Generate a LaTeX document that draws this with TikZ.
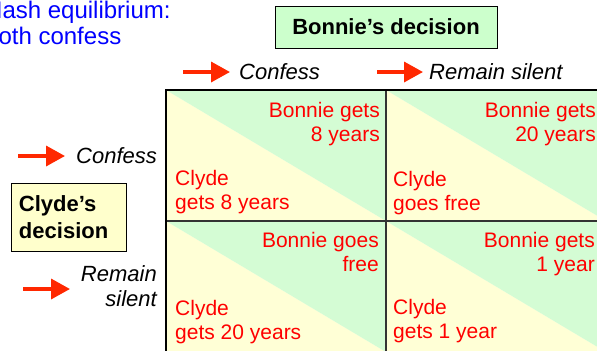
\documentclass[tikz,border=0pt]{standalone}
\usepackage{fontspec}
\setmainfont{Liberation Sans}
\usetikzlibrary{arrows.meta}
\definecolor{cellgreen}{RGB}{212,252,212}
\definecolor{cellyellow}{RGB}{255,255,214}
\definecolor{boxgreen}{RGB}{204,255,204}
\definecolor{boxyellow}{RGB}{255,255,204}
\definecolor{arrowred}{RGB}{255,40,0}
\definecolor{textred}{RGB}{255,0,0}
\definecolor{textblue}{RGB}{0,0,255}
\definecolor{gridgray}{RGB}{51,51,51}
\begin{document}
\begin{tikzpicture}[x=1bp,y=-1bp,
  redarrow/.style={draw=arrowred, line width=3.5bp, -{Triangle[length=19bp,width=20bp]}},
  cellnote/.style={text=textred, inner sep=0pt, font=\fontsize{21bp}{24.5bp}\selectfont},
  choice/.style={inner sep=0pt, font=\fontsize{22bp}{25bp}\selectfont\itshape},
  decision/.style={draw=black, line width=1bp, font=\fontsize{22bp}{27bp}\selectfont\bfseries}]
\useasboundingbox (0,0) rectangle (597,350);
\clip (0,0) rectangle (597,350);

% cells with diagonal split
\foreach \cx/\cy in {166/90, 386/90, 166/221, 386/221}{
  \fill[cellyellow] (\cx,\cy) -- (\cx,\cy+131) -- (\cx+220,\cy+131) -- cycle;
  \fill[cellgreen] (\cx,\cy) -- (\cx+220,\cy) -- (\cx+220,\cy+131) -- cycle;
}
% grid
\draw[gridgray, line width=2bp] (386,90) -- (386,352);
\draw[gridgray, line width=2bp] (166,221) -- (606,221);
\draw[black, line width=1.5bp] (166,352) -- (166,90) -- (606,90);

% title
\node[text=textblue, inner sep=0pt, anchor=north west, align=left,
      font=\fontsize{24bp}{26bp}\selectfont] (nash) at (-15,1) {Nash equilibrium:\\both confess};

% decision boxes
\node[decision, fill=boxgreen, minimum width=222bp, minimum height=42bp] (bonnie) at (386,27) {Bonnie’s decision};
\node[decision, fill=boxyellow, text width=100bp, inner xsep=7bp, align=left, minimum height=68bp] (clyde) at (69,217) {Clyde’s\\decision};

% choice labels and arrows
\node[choice, anchor=west] (bconf) at (239,72) {Confess};
\node[choice, anchor=west] (bsil) at (429,72) {Remain silent};
\node[choice, anchor=west] (cconf) at (76,156) {Confess};
\node[choice, anchor=east, align=right] (csil) at (157,286.5) {Remain\\silent};

\coordinate (ab1s) at (183,72); \coordinate (ab1e) at (230,72);
\coordinate (ab2s) at (377,72); \coordinate (ab2e) at (423,72);
\coordinate (ac1s) at (18,156); \coordinate (ac1e) at (65,156);
\coordinate (ac2s) at (23,289); \coordinate (ac2e) at (70,289);
\draw[redarrow] (ab1s) -- (ab1e);
\draw[redarrow] (ab2s) -- (ab2e);
\draw[redarrow] (ac1s) -- (ac1e);
\draw[redarrow] (ac2s) -- (ac2e);

% outcomes
\node[cellnote, anchor=north east, align=right] (b11) at (380,102) {Bonnie gets\\8 years};
\node[cellnote, anchor=north west, align=left] (c11) at (175,170) {Clyde\\gets 8 years};
\node[cellnote, anchor=north east, align=right] (b12) at (596,102) {Bonnie gets\\20 years};
\node[cellnote, anchor=north west, align=left] (c12) at (393,171) {Clyde\\goes free};
\node[cellnote, anchor=north east, align=right] (b21) at (379,232) {Bonnie goes\\free};
\node[cellnote, anchor=north west, align=left] (c21) at (175,300) {Clyde\\gets 20 years};
\node[cellnote, anchor=north east, align=right] (b22) at (595,232) {Bonnie gets\\1 year};
\node[cellnote, anchor=north west, align=left] (c22) at (393,299) {Clyde\\gets 1 year};
\end{tikzpicture}
\end{document}
